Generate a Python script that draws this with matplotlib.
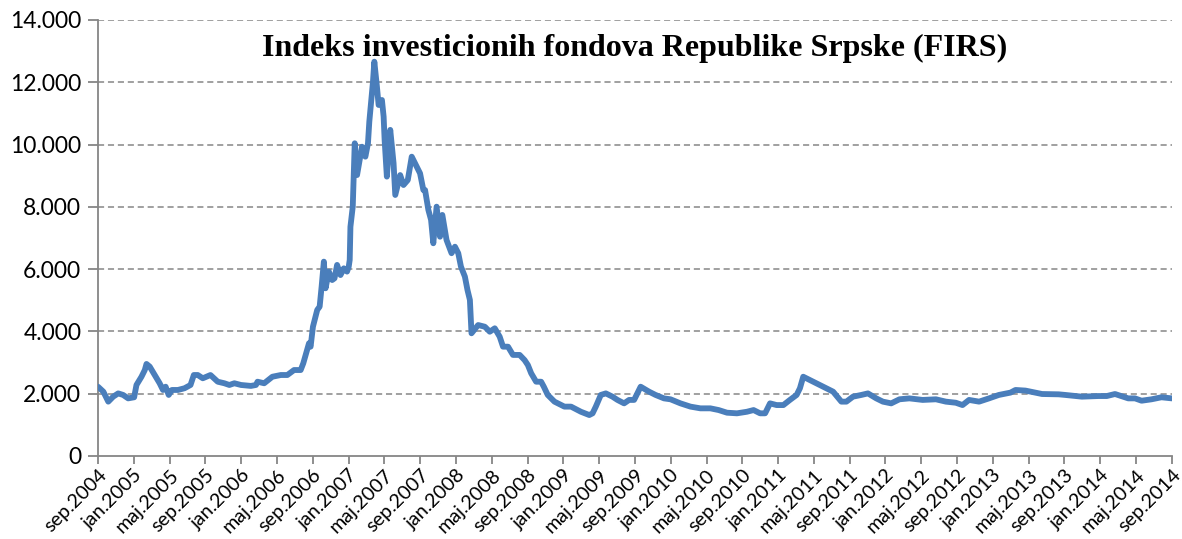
import numpy as np
import matplotlib.pyplot as plt
from matplotlib.ticker import FuncFormatter

# months since sep.2004 and index value
months = [
    0.0, 0.6, 1.15, 1.7, 2.26, 2.81, 3.37, 4.04, 4.3, 4.86, 5.23, 5.42, 5.78,
    6.34, 6.89, 7.26, 7.56, 7.9, 8.26, 8.93, 9.67, 10.34, 10.71, 11.15, 11.71,
    12.57, 13.38, 14.12, 14.68, 15.24, 15.98, 17.09, 17.65, 17.83, 18.57,
    19.49, 20.43, 21.16, 21.91, 22.65, 22.94, 23.21, 23.58, 23.76, 24.02,
    24.5, 24.77, 24.99, 25.24, 25.43, 25.8, 26.17, 26.43, 26.72, 27.1, 27.47,
    27.83, 28.02, 28.13, 28.21, 28.47, 28.69, 28.95, 29.5, 29.88, 30.17,
    30.32, 30.61, 30.73, 30.88, 31.17, 31.36, 31.73, 31.92, 32.03, 32.28,
    32.66, 33.03, 33.22, 33.77, 34.14, 34.62, 35.06, 35.62, 35.99, 36.36,
    36.55, 36.92, 37.22, 37.47, 37.84, 38.22, 38.48, 38.95, 39.51, 39.89,
    40.26, 40.56, 41.0, 41.29, 41.56, 41.74, 42.48, 43.23, 43.78, 44.34,
    44.89, 45.26, 45.82, 46.37, 47.12, 47.67, 48.04, 48.41, 48.96, 49.52,
    49.82, 50.26, 51.01, 52.12, 52.86, 53.97, 54.9, 55.27, 55.63, 56.19,
    56.75, 57.49, 58.05, 58.79, 59.35, 59.91, 60.64, 61.58, 62.31, 63.25,
    63.98, 65.09, 66.21, 67.32, 68.43, 69.36, 70.29, 71.4, 72.51, 73.26,
    73.99, 74.55, 75.1, 75.84, 76.59, 77.32, 78.07, 78.44, 78.81, 79.93,
    81.04, 82.15, 83.07, 83.63, 84.37, 85.3, 86.04, 86.97, 87.71, 88.64,
    89.56, 90.67, 92.16, 93.64, 94.75, 95.86, 96.61, 97.34, 98.46, 99.57,
    100.67, 101.97, 102.53, 103.64, 105.5, 107.35, 108.09, 109.95, 111.79,
    112.73, 113.65, 115.13, 115.88, 116.62, 117.73, 118.84, 120.0,
]
firs = [
    2225, 2065, 1745, 1905, 2010, 1960, 1850, 1885, 2280, 2545, 2760, 2955, 2870,
    2600, 2335, 2120, 2225, 1960, 2120, 2120, 2175, 2280, 2600, 2600, 2495,
    2600, 2385, 2335, 2280, 2335, 2280, 2250, 2280, 2385, 2335,
    2545, 2600, 2600, 2760, 2760, 2975, 3245, 3620, 3510, 4150,
    4690, 4795, 5435, 6240, 5385, 5920, 5650, 5705, 6135, 5810, 6025,
    5920, 6080, 6295, 7360, 8005, 10040, 9020, 9930, 9610, 10040,
    10735, 11645, 12020, 12660, 11860, 11270, 11430, 10895, 10145, 8970,
    10470, 9400, 8380, 9020, 8700, 8860, 9610, 9290, 9075, 8540,
    8540, 7900, 7580, 6830, 8005, 7040, 7740, 6935, 6510, 6720,
    6510, 6080, 5760, 5330, 5010, 3940, 4205, 4150, 3990, 4100,
    3830, 3510, 3510, 3245, 3245, 3080, 2920, 2655, 2385, 2385,
    2225, 1960, 1745, 1585, 1585, 1420, 1315, 1370, 1585, 1960,
    2010, 1905, 1800, 1690, 1800, 1800, 2225, 2065, 1960, 1850,
    1820, 1690, 1585, 1530, 1530, 1475, 1390, 1370, 1420, 1475,
    1370, 1370, 1690, 1635, 1635, 1800, 1960, 2175, 2545, 2385,
    2225, 2065, 1745, 1745, 1905, 1960, 2010, 1850, 1745, 1690,
    1820, 1850, 1800, 1820, 1745, 1710, 1635, 1800, 1745, 1850,
    1960, 2035, 2120, 2100, 1990, 1980, 1960, 1905, 1925, 1925, 1990,
    1850, 1850, 1775, 1820, 1885, 1850, 1850,
]
tick_labels = [
    "sep.2004", "jan.2005", "maj.2005", "sep.2005", "jan.2006", "maj.2006",
    "sep.2006", "jan.2007", "maj.2007", "sep.2007", "jan.2008", "maj.2008",
    "sep.2008", "jan.2009", "maj.2009", "sep.2009", "jan.2010", "maj.2010",
    "sep.2010", "jan.2011", "maj.2011", "sep.2011", "jan.2012", "maj.2012",
    "sep.2012", "jan.2013", "maj.2013", "sep.2013", "jan.2014", "maj.2014",
    "sep.2014",
]

n = min(len(months), len(firs))
months = months[:n]
firs = firs[:n]

line_color = "#4a7ebb"
axis_color = "#868686"

fig = plt.figure(figsize=(11.82, 5.39), dpi=100)
ax = fig.add_axes([0.0829, 0.154, 0.9085, 0.809])

for y in range(2000, 14001, 2000):
    ax.axhline(y, color=axis_color, linewidth=1.1, linestyle=(0, (4, 2.5)), zorder=1)

ax.plot(months, firs, color=line_color, linewidth=4.2, solid_joinstyle="round",
        solid_capstyle="round", zorder=3)

ax.set_xlim(0, 120)
ax.set_ylim(0, 14000)
ax.set_yticks(range(0, 14001, 2000))
ax.yaxis.set_major_formatter(
    FuncFormatter(lambda v, p: "0" if v == 0 else f"{int(v):,}".replace(",", "."))
)
ax.set_xticks(np.arange(0, 121, 4))
ax.set_xticklabels(tick_labels, rotation=45, ha="right", va="top",
                   rotation_mode="anchor", fontsize=14.2, family="Lato")
for lab in ax.get_yticklabels():
    lab.set_family("Lato")
    lab.set_fontsize(16.5)

for side in ["top", "right"]:
    ax.spines[side].set_visible(False)
for side in ["left", "bottom"]:
    ax.spines[side].set_color(axis_color)
    ax.spines[side].set_linewidth(1.3)
ax.tick_params(axis="both", colors=axis_color, labelcolor="black", width=1.3)
ax.tick_params(axis="x", length=6, direction="out", pad=1.5)
ax.tick_params(axis="y", length=7, direction="out", pad=5)

ax.text(0.5, 0.935, "Indeks investicionih fondova Republike Srpske (FIRS)",
        transform=ax.transAxes, ha="center", va="center", fontsize=23,
        fontweight="bold", family="Liberation Serif", zorder=4)

fig.savefig("out.png", dpi=100)
